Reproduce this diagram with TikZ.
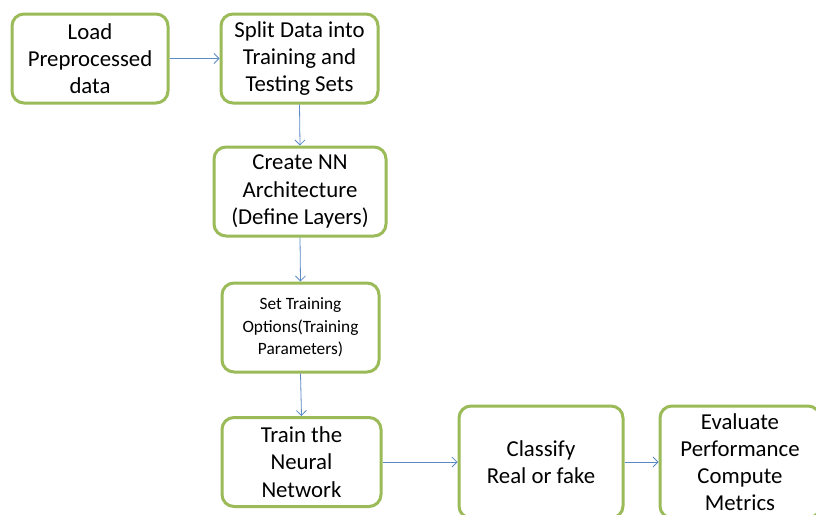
\documentclass[tikz,border=0pt]{standalone}
\usepackage{fontspec}
\setmainfont{Carlito}
\usetikzlibrary{arrows.meta}
\definecolor{boxgreen}{HTML}{9BBB59}
\definecolor{arrowblue}{HTML}{5B8AC6}
\tikzset{
  stepbox/.style={draw=boxgreen, line width=3pt, rounded corners=12pt, fill=white,
    align=center, inner sep=0pt, font=\fontsize{22.8}{27.2}\selectfont},
  smallbox/.style={stepbox, font=\fontsize{17.3}{22.5}\selectfont},
  conn/.style={draw=arrowblue, line width=0.8pt, -{Straight Barb[length=5pt,width=10pt]}}
}
\begin{document}
\begin{tikzpicture}[x=1pt,y=-1pt]
\useasboundingbox (0,0) rectangle (816,514);
\clip (0,0) rectangle (816,514);
\fill[white] (0,0) rectangle (816,514);
\node[stepbox, minimum width=156pt, minimum height=89pt] (load) at (90,58.5) {Load\\Preprocessed\\data};
\node[stepbox, minimum width=157pt, minimum height=89pt] (split) at (299.5,58.5) {Split Data into\\Training and\\Testing Sets};
\node[stepbox, minimum width=172pt, minimum height=89pt] (create) at (300,191.5) {Create NN\\Architecture\\(Define Layers)};
\node[smallbox, minimum width=157pt, minimum height=89pt] (set) at (300.5,327.5) {Set Training\\Options(Training\\Parameters)};
\node[stepbox, minimum width=159pt, minimum height=89pt] (train) at (301.5,462) {Train the\\Neural\\Network};
\node[stepbox, minimum width=164pt, minimum height=112pt] (classify) at (541,462) {Classify\\Real or fake};
\node[stepbox, minimum width=160pt, minimum height=112pt] (eval) at (740,462) {Evaluate\\Performance\\Compute\\Metrics};
\draw[conn] (load.east) -- (split.west);
\draw[conn] (split.south) -- (create.north);
\draw[conn] (create.south) -- (set.north);
\draw[conn] (set.south) -- (train.north);
\draw[conn] (train.east) -- (classify.west);
\draw[conn] (classify.east) -- (eval.west);
\end{tikzpicture}
\end{document}
